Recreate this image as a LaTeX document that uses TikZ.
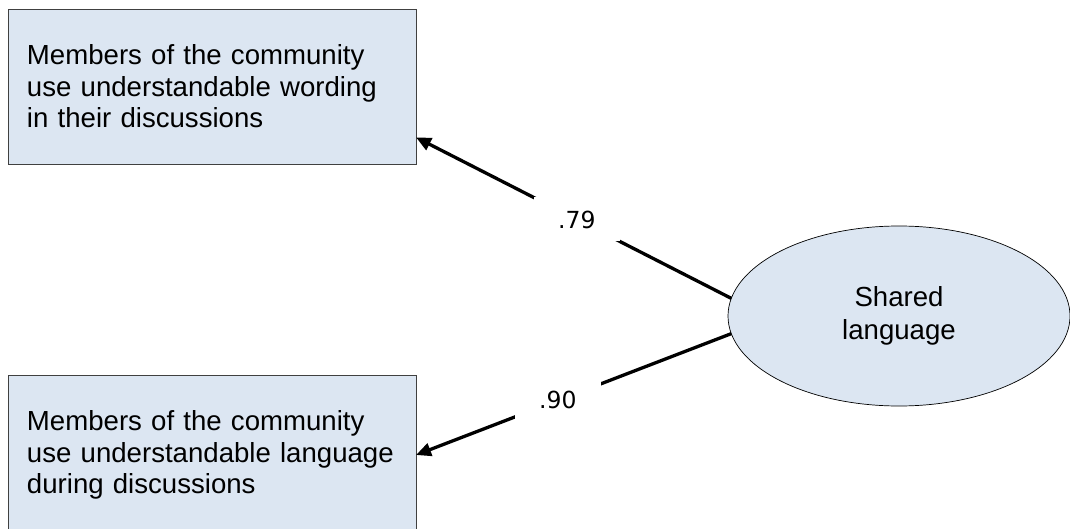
\documentclass[tikz,border=0pt]{standalone}
\usepackage{fontspec}
\setmainfont{Liberation Sans}
\newfontfamily\lblfont{DejaVu Sans}
\usetikzlibrary{shapes.geometric,arrows.meta}
\definecolor{fillblue}{HTML}{DCE6F2}
\definecolor{boxedge}{HTML}{404040}
\newcommand\nobreakwords{\hyphenpenalty=10000\relax}
\tikzset{
  itembox/.style={draw=boxedge, line width=0.9pt, fill=fillblue, rectangle,
    anchor=north west, minimum width=408pt, inner xsep=19pt, outer sep=0pt,
    text width=370pt, align=left,
    font=\fontsize{27.6}{31.5}\selectfont\nobreakwords},
  factor/.style={draw=black, line width=0.7pt, fill=fillblue, ellipse,
    minimum width=342pt, minimum height=180pt, inner sep=0pt, outer sep=0pt,
    align=center, font=\fontsize{27.6}{33}\selectfont},
  loading/.style={line width=3.3pt, -{Triangle[length=15pt,width=13pt]}},
  coef/.style={fill=white, inner sep=0pt, minimum width=86pt, minimum height=44pt,
    font=\lblfont\fontsize{23.5}{27}\selectfont}
}
\begin{document}
\begin{tikzpicture}[x=1pt,y=-1pt]
\useasboundingbox (0,0) rectangle (1070,529);
% indicator boxes
\node[itembox, minimum height=155pt] (wording) at (8,9)
  {Members of the community\\use understandable wording\\in their discussions};
\node[itembox, minimum height=160pt] (langitem) at (8,375)
  {Members of the community\\use understandable language\\during discussions};
% latent factor
\node[factor] (shared) at (899,316) {Shared\\language};
% loadings
\draw[loading] (shared.174) -- node[coef, pos=0.49] (l79) {.79} (wording.-14.2);
\draw[loading] (shared.186) -- node[coef, pos=0.55] (l90) {.90} (langitem.-0.6);
\end{tikzpicture}
\end{document}
